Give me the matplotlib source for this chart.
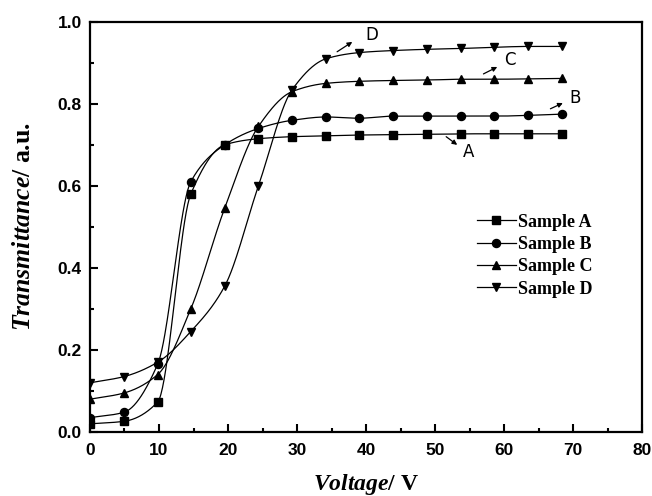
import matplotlib
matplotlib.use('Agg')
import matplotlib.pyplot as plt
from matplotlib.ticker import MultipleLocator
import numpy as np

plt.rcParams['mathtext.fontset'] = 'custom'
plt.rcParams['mathtext.it'] = 'Liberation Serif:italic:bold'
plt.rcParams['mathtext.rm'] = 'Liberation Serif:bold'

# data
voltage = [0, 4.9, 9.8, 14.6, 19.5, 24.4, 29.3, 34.2, 39.0, 43.9, 48.8, 53.7, 58.6, 63.5, 68.4]
sample_a = [0.02, 0.026, 0.073, 0.58, 0.70, 0.715, 0.72, 0.722, 0.724, 0.725, 0.726, 0.727, 0.727, 0.727, 0.727]
sample_b = [0.035, 0.048, 0.165, 0.61, 0.70, 0.74, 0.76, 0.768, 0.765, 0.77, 0.77, 0.77, 0.77, 0.772, 0.775]
sample_c = [0.08, 0.095, 0.14, 0.30, 0.545, 0.745, 0.83, 0.85, 0.855, 0.857, 0.858, 0.86, 0.86, 0.861, 0.862]
sample_d = [0.12, 0.135, 0.17, 0.245, 0.355, 0.60, 0.835, 0.91, 0.925, 0.93, 0.933, 0.935, 0.938, 0.94, 0.94]

names = ['Sample A', 'Sample B', 'Sample C', 'Sample D']
markers = ['s', 'o', '^', 'v']


def pchip(x, y, xs):
    # monotone cubic interpolation, smooth line through the points
    x = np.asarray(x, float)
    y = np.asarray(y, float)
    h = np.diff(x)
    d = np.diff(y) / h
    m = np.zeros_like(y)
    for k in range(1, len(x) - 1):
        if d[k - 1] * d[k] > 0:
            w1 = 2 * h[k] + h[k - 1]
            w2 = h[k] + 2 * h[k - 1]
            m[k] = (w1 + w2) / (w1 / d[k - 1] + w2 / d[k])
    m[0] = d[0]
    m[-1] = d[-1]
    idx = np.clip(np.searchsorted(x, xs) - 1, 0, len(x) - 2)
    t = (xs - x[idx]) / h[idx]
    h00 = 2 * t**3 - 3 * t**2 + 1
    h10 = t**3 - 2 * t**2 + t
    h01 = -2 * t**3 + 3 * t**2
    h11 = t**3 - t**2
    return h00 * y[idx] + h10 * h[idx] * m[idx] + h01 * y[idx + 1] + h11 * h[idx] * m[idx + 1]


fig = plt.figure(figsize=(6.52, 4.96), dpi=100)
ax = fig.add_axes([0.138, 0.129, 0.847, 0.827])

xs = np.linspace(voltage[0], voltage[-1], 600)
for vals, name, mk in zip([sample_a, sample_b, sample_c, sample_d], names, markers):
    ax.plot(xs, pchip(voltage, vals, xs), color='black', lw=0.9)
    ax.plot(voltage, vals, linestyle='none', marker=mk, color='black', ms=5.8)
    ax.plot([], [], color='black', lw=0.9, marker=mk, ms=5.8, label=name)

# curve labels with small arrows
arrow = dict(arrowstyle='-|>', color='black', lw=0.9, mutation_scale=7, shrinkA=0, shrinkB=0)
ax.annotate('', xy=(38.0, 0.951), xytext=(35.8, 0.927), arrowprops=arrow)
ax.text(40.9, 0.968, 'D', fontsize=12, ha='center', va='center')
ax.annotate('', xy=(59.0, 0.89), xytext=(57.0, 0.873), arrowprops=arrow)
ax.text(60.9, 0.907, 'C', fontsize=12, ha='center', va='center')
ax.annotate('', xy=(68.5, 0.802), xytext=(66.7, 0.788), arrowprops=arrow)
ax.text(70.3, 0.815, 'B', fontsize=12, ha='center', va='center')
ax.annotate('', xy=(53.2, 0.70), xytext=(51.6, 0.72), arrowprops=arrow)
ax.text(54.9, 0.683, 'A', fontsize=12, ha='center', va='center')

ax.set_xlim(0, 80)
ax.set_ylim(0, 1.0)
ax.xaxis.set_major_locator(MultipleLocator(10))
ax.xaxis.set_minor_locator(MultipleLocator(5))
ax.yaxis.set_major_locator(MultipleLocator(0.2))
ax.yaxis.set_minor_locator(MultipleLocator(0.1))
ax.yaxis.set_major_formatter(plt.FormatStrFormatter('%.1f'))
ax.tick_params(which='both', direction='in', width=1.5)
ax.tick_params(which='major', length=6, labelsize=12.5)
ax.tick_params(which='minor', length=3)
ax.tick_params(axis='x', pad=8)
ax.tick_params(axis='y', pad=6)
for lab in ax.get_xticklabels() + ax.get_yticklabels():
    lab.set_fontweight('bold')
    lab.set_family('Liberation Sans')
for sp in ax.spines.values():
    sp.set_linewidth(1.6)

ax.set_xlabel(r'$\mathit{Voltage/}$ V', fontsize=17, fontweight='bold', family='Liberation Serif', labelpad=10)
ax.set_ylabel(r'$\mathit{Transmittance/}$ a.u.', fontsize=18.5, fontweight='bold', family='Liberation Serif', labelpad=16)

ax.legend(loc='center left', bbox_to_anchor=(0.70, 0.43), frameon=False,
          prop={'family': 'Liberation Serif', 'weight': 'bold', 'size': 13},
          handlelength=2.2, handletextpad=0.1, labelspacing=0.3,
          borderpad=0, borderaxespad=0)

fig.savefig('out.png', dpi=100)
